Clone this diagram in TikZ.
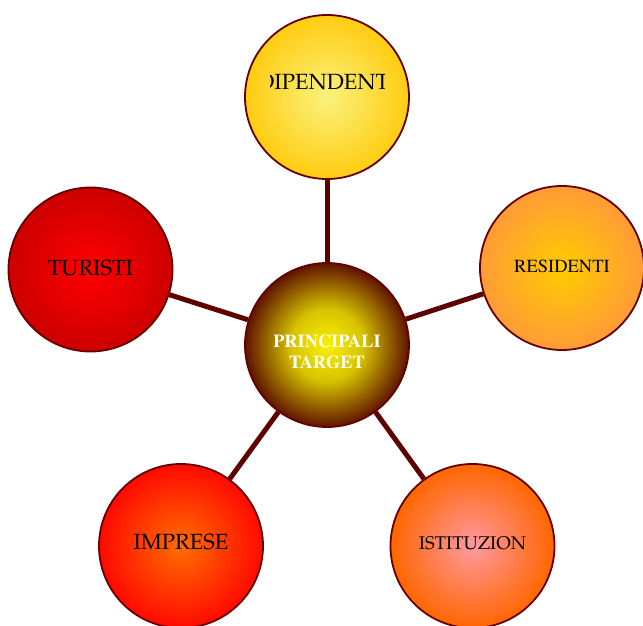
\documentclass[tikz,border=0pt]{standalone}
\usepackage[T1,TU]{fontenc}
\usepackage{tikz}
\definecolor{bordo}{RGB}{100,0,0}
\definecolor{linkcol}{RGB}{95,0,0}
\definecolor{dipin}{RGB}{250,242,125}
\definecolor{dipout}{RGB}{255,204,17}
\definecolor{cenin}{RGB}{250,240,0}
\definecolor{cenmid}{RGB}{215,195,0}
\definecolor{cenout}{RGB}{95,20,0}
\definecolor{resin}{RGB}{255,204,0}
\definecolor{resout}{RGB}{255,155,55}
\definecolor{istin}{RGB}{255,153,160}
\definecolor{istout}{RGB}{255,102,0}
\definecolor{turin}{RGB}{255,0,0}
\definecolor{turout}{RGB}{205,0,0}
\definecolor{impin}{RGB}{255,110,0}
\definecolor{impout}{RGB}{255,10,0}
\pgfdeclareradialshading{centerball}{\pgfpoint{0bp}{0bp}}{color(0bp)=(cenin); color(11bp)=(cenmid); color(25bp)=(cenout); color(50bp)=(cenout)}
\tikzset{
  target/.style 2 args={circle,draw=bordo,line width=1.8pt,minimum size=164pt,inner sep=0pt,inner color=#1,outer color=#2},
  palat/.style={font=\fontencoding{T1}\fontfamily{ppl}\fontsize{#1}{#1}\selectfont},
  times/.style={font=\fontencoding{T1}\fontfamily{ptm}\fontsize{#1}{#1}\selectfont},
  link/.style={draw=linkcol,line width=5pt}
}

\begin{document}
\begin{tikzpicture}[x=1pt,y=-1pt]
    \useasboundingbox (0,0) rectangle (643,626);

    \node [circle,draw=bordo,line width=1.8pt,minimum size=164pt,inner sep=0pt,shading=centerball] (C) at (327,345) {};
    \node [target={dipin}{dipout}] (D) at (327,97) {};
    \node [target={resin}{resout}] (R) at (562,268) {};
    \node [target={turin}{turout}] (T) at (90.5,269.5) {};
    \node [target={impin}{impout}] (I) at (181,546) {};
    \node [target={istin}{istout}] (S) at (472.5,546) {};

    \draw [link] (C) -- (D);
    \draw [link] (C) -- (R);
    \draw [link] (C) -- (T);
    \draw [link] (C) -- (I);
    \draw [link] (C) -- (S);

    % testo tagliato come nell'originale
    \begin{scope}
      \clip (270,50) rectangle (384,110);
      \node [palat=22] (Dtxt) at (327,82) {DIPENDENTI};
    \end{scope}
    \node [times=18.5] (Rtxt) at (562,266) {RESIDENTI};
    \node [palat=22] (Ttxt) at (90.5,268) {TURISTI};
    \node [palat=22] (Itxt) at (181,542) {IMPRESE};
    \node [palat=18.4] (Stxt) at (472.5,543) {ISTITUZION};
    \node [white,align=center,font=\fontencoding{T1}\fontfamily{ptm}\bfseries\fontsize{18.3}{21.5}\selectfont] (Ctxt) at (327,352) {PRINCIPALI\\TARGET};
\end{tikzpicture}
\end{document}
